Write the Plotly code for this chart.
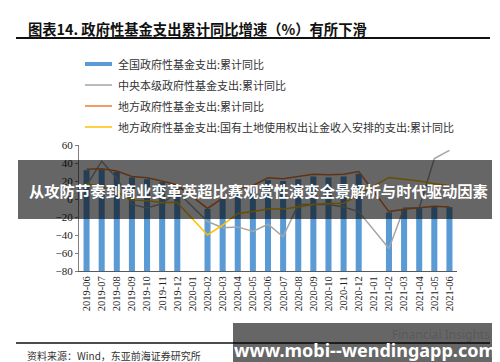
import plotly.graph_objects as go

months = ["2019-06", "2019-07", "2019-08", "2019-09", "2019-10", "2019-11", "2019-12",
          "2020-01", "2020-02", "2020-03", "2020-04", "2020-05", "2020-06", "2020-07",
          "2020-08", "2020-09", "2020-10", "2020-11", "2020-12",
          "2021-01", "2021-02", "2021-03", "2021-04", "2021-05", "2021-06"]

total = [32, 33, 30.5, 24, 22, 19, 13,
         None, -11, 0.5, 10, 12, 21, 20, 22, 25, 24, 25, 28,
         None, -15, -11, -10, -8, -9]
central = [15, 42, 23, -6, -10, -5, 8,
           None, -25, -32, -31, -36, -28, -42, -6, -6, -6, -9, -14,
           None, -55, -10, -10, 45, 54]
local = [33, 33.5, 31, 25, 23.5, 20, 15.5,
         None, -10.5, 1, 12, 15, 23.5, 22.5, 25, 27.5, 27, 27.5, 30.5,
         None, -14, -11.5, -10, -8, -9]
land = [17, 14, 8, -1, -2, -4, -4,
        None, -40, -29, -16, -14, -11, -11, -9, -6, -5, -5, 5,
        None, 24, 22, 20, 17, 15]

series_names = ["全国政府性基金支出:累计同比",
                "中央本级政府性基金支出:累计同比",
                "地方政府性基金支出:累计同比",
                "地方政府性基金支出:国有土地使用权出让金收入安排的支出:累计同比"]
y_min, y_max = -80, 60

BLUE, GRAY, ORANGE, YELLOW = "#5B9BD5", "#A5A5A5", "#ED7D31", "#FFC000"

W, H = 500, 362
L, R, T, B = 71, 449, 137, 263


def px(x):
    return (x - L) / (R - L)


def py(y):
    return (B - y) / (B - T)


fig = go.Figure()
fig.add_trace(go.Bar(x=months, y=[None if v is None else v - y_min for v in total],
                     base=y_min, marker_color=BLUE, marker_line_width=0,
                     name=series_names[0], showlegend=False))
for vals, col, nm in [(central, GRAY, series_names[1]),
                      (local, ORANGE, series_names[2]),
                      (land, YELLOW, series_names[3])]:
    fig.add_trace(go.Scatter(x=months, y=vals, mode="lines", connectgaps=True,
                             line=dict(color=col, width=1.5), name=nm, showlegend=False))

shapes = []
annotations = []

# title + underline
annotations.append(dict(xref="paper", yref="paper", x=px(18), y=py(21), xanchor="left",
                        yanchor="middle", showarrow=False,
                        text="<b>图表14. 政府性基金支出累计同比增速（%）有所下滑</b>",
                        font=dict(family="Noto Sans CJK SC", size=14.3, color="#111")))
shapes.append(dict(type="line", xref="paper", yref="paper", x0=px(8), x1=px(482),
                   y0=py(30), y1=py(30), line=dict(color="#111", width=2)))

# manual legend
leg_y = [56, 77, 98, 119]
shapes.append(dict(type="rect", xref="paper", yref="paper", x0=px(77), x1=px(104),
                   y0=py(leg_y[0] - 2), y1=py(leg_y[0] + 2), fillcolor=BLUE, line_width=0))
for yy, col in zip(leg_y[1:], [GRAY, ORANGE, YELLOW]):
    shapes.append(dict(type="line", xref="paper", yref="paper", x0=px(77), x1=px(104),
                       y0=py(yy), y1=py(yy), line=dict(color=col, width=1.5)))
for yy, nm in zip(leg_y, series_names):
    annotations.append(dict(xref="paper", yref="paper", x=px(108), y=py(yy), xanchor="left",
                            yanchor="middle", showarrow=False, text=nm,
                            font=dict(family="Noto Sans CJK SC", size=11, color="#333")))

# source line + text
shapes.append(dict(type="line", xref="paper", yref="paper", x0=px(8), x1=px(482),
                   y0=py(335), y1=py(335), line=dict(color="#111", width=1.5)))
annotations.append(dict(xref="paper", yref="paper", x=px(17), y=py(347), xanchor="left",
                        yanchor="middle", showarrow=False,
                        text="资料来源：Wind，东亚前海证券研究所",
                        font=dict(family="Noto Sans CJK SC", size=10, color="#333")))

# middle overlay banner
shapes.append(dict(type="rect", xref="paper", yref="paper", layer="above",
                   x0=px(10), x1=px(490), y0=py(152), y1=py(211),
                   fillcolor="rgba(0,0,0,0.6)", line_width=0))
annotations.append(dict(xref="paper", yref="paper", x=px(250), y=py(182), xanchor="center",
                        yanchor="middle", showarrow=False,
                        text="<b>从攻防节奏到商业变革英超比赛观赏性演变全景解析与时代驱动因素</b>",
                        font=dict(family="Noto Sans CJK SC", size=15.3, color="white")))

# bottom banner
shapes.append(dict(type="rect", xref="paper", yref="paper", layer="above",
                   x0=px(225), x1=px(490), y0=py(315), y1=py(362),
                   fillcolor="rgba(0,0,0,0.6)", line_width=0))
annotations.append(dict(xref="paper", yref="paper", x=px(484), y=py(326), xanchor="right",
                        yanchor="middle", showarrow=False, text="Financial Insights",
                        font=dict(family="Noto Sans", size=12, color="rgba(80,80,80,0.6)")))
annotations.append(dict(xref="paper", yref="paper", x=px(357), y=py(342), xanchor="center",
                        yanchor="middle", showarrow=False, text="<b>www.mobi--wendingapp.com</b>",
                        font=dict(family="Noto Sans", size=18, color="white")))

fig.update_layout(
    width=W, height=H,
    margin=dict(l=L, r=W - R, t=T, b=H - B, pad=0),
    paper_bgcolor="white", plot_bgcolor="white",
    bargap=0.6, showlegend=False,
    shapes=shapes, annotations=annotations,
    xaxis=dict(type="category", categoryorder="array", categoryarray=months,
               range=[-0.5, len(months) - 0.5], tickangle=-90, showgrid=False,
               showline=True, linecolor="#595959", linewidth=1, ticks="",
               tickfont=dict(family="Liberation Serif", size=10.5, color="#222"),
               fixedrange=True),
    yaxis=dict(range=[y_min, y_max], dtick=20, showgrid=False, zeroline=False,
               showline=True, linecolor="#808080", linewidth=1,
               ticks="outside", ticklen=3, tickcolor="#808080",
               tickfont=dict(family="Liberation Serif", size=11, color="#222"),
               fixedrange=True),
)

fig.write_html("out.html")
